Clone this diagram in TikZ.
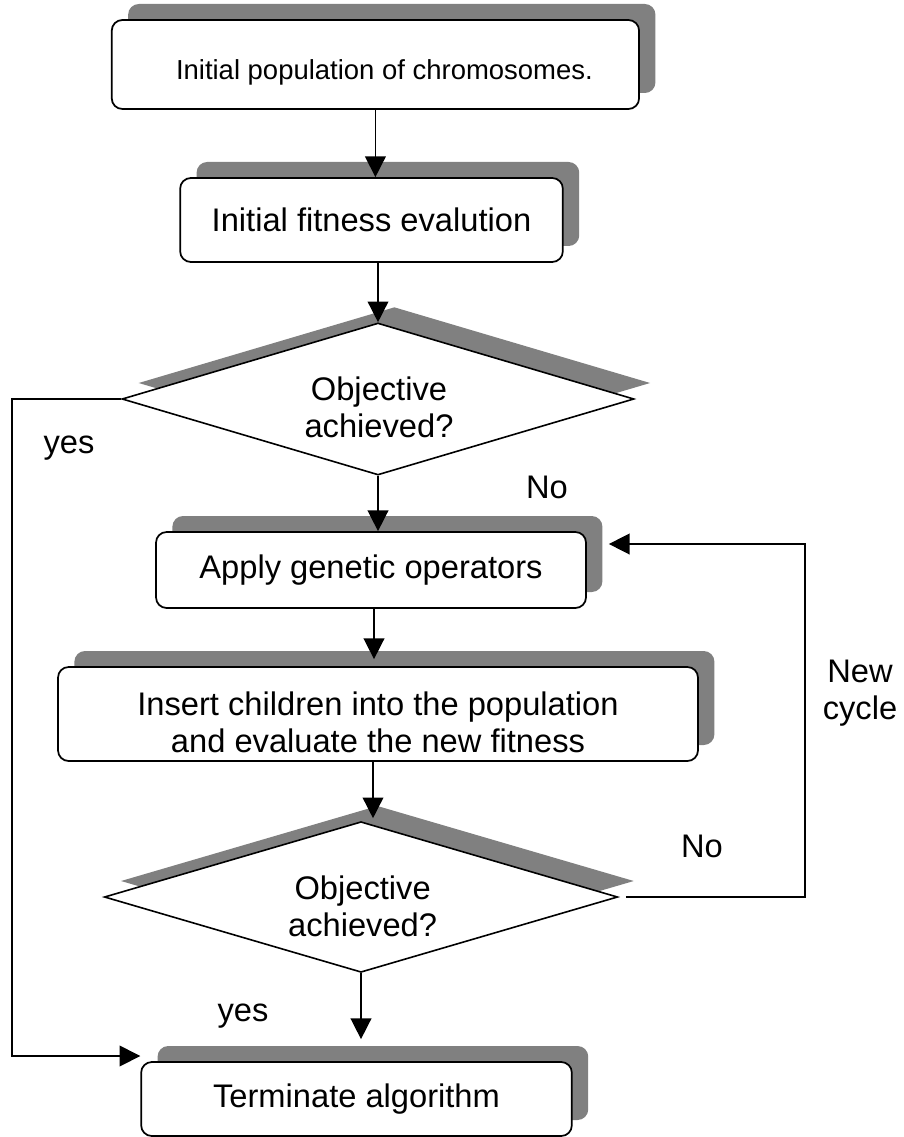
\documentclass[tikz,border=0pt]{standalone}
\usepackage{fontspec}
\setmainfont{Liberation Sans}
\usetikzlibrary{shapes.geometric,shadows,arrows.meta}
\definecolor{shadegray}{HTML}{808080}
\tikzset{
  bigfont/.style={font=\fontsize{24.5}{27.5}\selectfont},
  smallfont/.style={font=\fontsize{20.6}{24}\selectfont},
  boxshadow/.style={general shadow={fill=shadegray, shadow xshift=12.3pt, shadow yshift=12pt}},
  stepbox/.style={draw, line width=1.3pt, fill=white, rounded corners=8pt, inner sep=0pt, boxshadow},
  decision/.style={diamond, draw, line width=1.2pt, fill=white, inner sep=0pt, boxshadow},
  txt/.style={bigfont, align=center, inner sep=0pt},
  flow/.style={line width=1.15pt, -{Triangle[length=15.5pt,width=15.5pt]}},
  tag/.style={bigfont, inner sep=0pt, align=center},
}
\begin{document}
\begin{tikzpicture}[x=0.75pt,y=-0.75pt]
\path[use as bounding box, fill=white] (0,0) rectangle (903,1137);

% process steps and decisions
\node[stepbox, minimum width=395.5pt, minimum height=66.75pt,
      label={[txt, smallfont, xshift=6.75pt, yshift=-6pt]center:Initial population of chromosomes.}]
      (init) at (375.4,64.5) {};
\node[stepbox, minimum width=287pt, minimum height=63pt,
      label={[txt]center:Initial fitness evalution}]
      (fit) at (371.5,220) {};
\node[decision, minimum width=384pt, minimum height=114pt,
      label={[txt, xshift=0.75pt, yshift=-6.4pt]center:Objective\\achieved?}]
      (obj1) at (378,399) {};
\node[stepbox, minimum width=322.5pt, minimum height=57pt,
      label={[txt]center:Apply genetic operators}]
      (ops) at (371,570) {};
\node[stepbox, minimum width=480pt, minimum height=70.5pt,
      label={[txt, yshift=-6pt]center:Insert children into the population\\and evaluate the new fitness}]
      (ins) at (378,714) {};
\node[decision, minimum width=385pt, minimum height=113pt,
      label={[txt, xshift=1.2pt, yshift=-6.75pt]center:Objective\\achieved?}]
      (obj2) at (361,897) {};
\node[stepbox, minimum width=323pt, minimum height=55.5pt,
      label={[txt]center:Terminate algorithm}]
      (term) at (356.5,1099) {};

% branch labels
\node[tag] (yesA) at (69,448) {yes};
\node[tag] (noA) at (547,487) {No};
\node[tag] (noB) at (702,846) {No};
\node[tag] (cyc) at (860,693) {New\\cycle};
\node[tag] (yesB) at (243,1016) {yes};

% turning points of the side loops
\coordinate (lc) at (12,1056);
\coordinate (rc) at (805,544);

% main flow
\draw[flow] (init.south) -- (init.south |- fit.north);
\draw[flow] (fit.south -| obj1.north) -- (obj1.north);
\draw[flow] (obj1.south) -- (obj1.south |- ops.north);
\draw[flow] ([xshift=2.25pt]ops.south) -- ([xshift=2.25pt,yshift=5.25pt]ops.south |- ins.north);
\draw[flow] ([xshift=-3.75pt]ins.south) -- ([xshift=-3.75pt,yshift=2pt]ins.south |- obj2.north);
\draw[flow] (obj2.south) -- ([yshift=16.5pt]obj2.south |- term.north);

% yes branch of the first test
\draw[flow] (obj1.west) -| (lc) -- (term.west |- lc);
% no branch of the second test: new cycle
\draw[flow] ([xshift=5.5pt]obj2.east) -| (rc) -- ([xshift=16.5pt]ops.east |- rc);
\end{tikzpicture}
\end{document}
